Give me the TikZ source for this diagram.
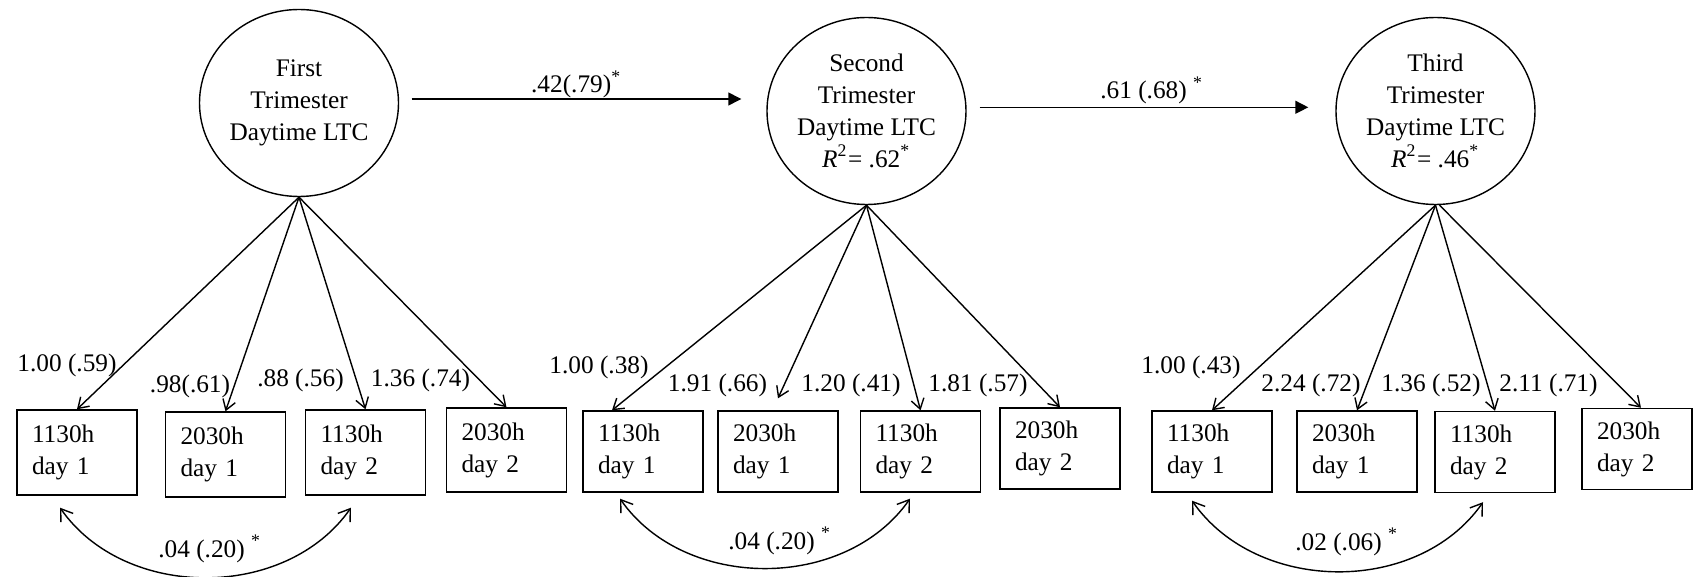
\documentclass[tikz,border=0pt]{standalone}
\usepackage{fontspec}
\setmainfont{Liberation Serif}
\usepackage{tikz}
\usetikzlibrary{shapes.geometric,arrows.meta}

\begin{document}
\begin{tikzpicture}[font=\fontsize{7.2pt}{9.1pt}\selectfont,
  latent/.style={draw, ellipse, minimum width=1.99cm, minimum height=1.87cm, inner sep=0pt, align=center},
  obs/.style={draw, rectangle, minimum width=1.2cm, minimum height=0.81cm, inner xsep=0.15cm, inner ysep=0pt, text width=0.9cm, align=left},
  load/.style={-{Straight Barb[length=0.1cm,width=0.13cm]}},
  reg/.style={-{Triangle[length=0.13cm,width=0.13cm]}},
  cov/.style={{Straight Barb[length=0.11cm,width=0.15cm]}-{Straight Barb[length=0.11cm,width=0.15cm]}}]
\useasboundingbox (0,0) rectangle (16.93,5.77);

\node[latent] (t1) at (2.99,4.74) {First\\Trimester\\Daytime LTC};
\node[latent] (t2) at (8.665,4.66) {Second\\Trimester\\Daytime LTC\\\textit{R}\textsuperscript{2}= .62\textsuperscript{*}};
\node[latent] (t3) at (14.355,4.66) {Third\\Trimester\\Daytime LTC\\\textit{R}\textsuperscript{2}= .46\textsuperscript{*}};

\node[obs, minimum height=0.85cm] (a1) at (0.77,1.245) {1130h\\day 1};
\node[obs, minimum height=0.85cm] (a2) at (2.255,1.225) {2030h\\day 1};
\node[obs, minimum height=0.85cm] (a3) at (3.655,1.245) {1130h\\day 2};
\node[obs, minimum height=0.84cm] (a4) at (5.065,1.27) {2030h\\day 2};
\node[obs] (b1) at (6.43,1.255) {1130h\\day 1};
\node[obs] (b2) at (7.78,1.255) {2030h\\day 1};
\node[obs] (b3) at (9.205,1.255) {1130h\\day 2};
\node[obs] (b4) at (10.60,1.285) {2030h\\day 2};
\node[obs] (c1) at (12.12,1.255) {1130h\\day 1};
\node[obs] (c2) at (13.57,1.255) {2030h\\day 1};
\node[obs] (c3) at (14.95,1.25) {1130h\\day 2};
\node[obs, minimum width=1.1cm, text width=0.8cm] (c4) at (16.37,1.28) {2030h\\day 2};

\draw[reg] ([shift={(0.125,0.04)}]t1.east) -- node[midway, above, inner sep=0pt] (w12) {.42(.79)\textsuperscript{*}} ([shift={(-0.25,0.12)}]t2.west);
\draw[reg] ([shift={(0.13,0.037)}]t2.east) -- node[midway, above=0.024cm, inner sep=0pt, xshift=0.08cm] (w23) {.61 (.68) \textsuperscript{*}} ([shift={(-0.27,0.037)}]t3.west);

\draw[load] (t1.south) -- (a1.north);
\draw[load] (t1.south) -- (a2.north);
\draw[load] (t1.south) -- (a3.north);
\draw[load] (t1.south) -- (a4.north);
\draw[load] (t2.south) -- ([xshift=-0.31cm]b1.north);
\draw[load] (t2.south) -- ([yshift=0.12cm]b2.north);
\draw[load] (t2.south) -- (b3.north);
\draw[load] (t2.south) -- (b4.north);
\draw[load] (t3.south) -- (c1.north);
\draw[load] (t3.south) -- (c2.north);
\draw[load] (t3.south) -- (c3.north);
\draw[load] ([xshift=0.04cm]t3.south) -- ([xshift=0.04cm]c4.north);

\node[anchor=base] (la1) at (0.67,2.053) {1.00 (.59)};
\node[anchor=base] (la2) at (1.90,1.843) {.98(.61)};
\node[anchor=base] (la3) at (3.005,1.903) {.88 (.56)};
\node[anchor=base] (la4) at (4.205,1.903) {1.36 (.74)};
\node[anchor=base] (lb1) at (5.99,2.03) {1.00 (.38)};
\node[anchor=base] (lb2) at (7.175,1.85) {1.91 (.66)};
\node[anchor=base] (lb3) at (8.51,1.85) {1.20 (.41)};
\node[anchor=base] (lb4) at (9.78,1.85) {1.81 (.57)};
\node[anchor=base] (lc1) at (11.91,2.03) {1.00 (.43)};
\node[anchor=base] (lc2) at (13.11,1.85) {2.24 (.72)};
\node[anchor=base] (lc3) at (14.31,1.85) {1.36 (.52)};
\node[anchor=base] (lc4) at (15.485,1.85) {2.11 (.71)};

\draw[cov] ([shift={(-0.17,-0.12)}]a1.south) to[out=-55,in=-125] node[midway, anchor=base, yshift=0.2cm, xshift=0.045cm] (ra) {.04 (.20) \textsuperscript{*}} ([shift={(-0.145,-0.12)}]a3.south);
\draw[cov] ([shift={(-0.23,-0.06)}]b1.south) to[out=-55,in=-125] node[midway, anchor=base, yshift=0.19cm, xshift=0.15cm] (rb) {.04 (.20) \textsuperscript{*}} ([shift={(-0.105,-0.06)}]b3.south);
\draw[cov] ([shift={(-0.2,-0.08)}]c1.south) to[out=-55,in=-125] node[midway, anchor=base, yshift=0.21cm, xshift=0.095cm] (rc) {.02 (.06) \textsuperscript{*}} ([shift={(-0.12,-0.09)}]c3.south);
\end{tikzpicture}
\end{document}
